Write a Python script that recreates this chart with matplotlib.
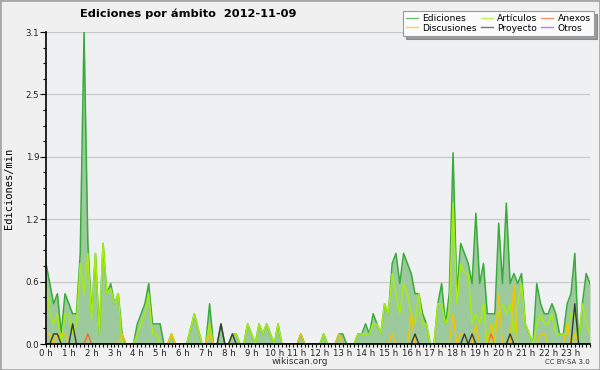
import numpy as np
import matplotlib
matplotlib.use('Agg')
import matplotlib.pyplot as plt
from matplotlib.ticker import FixedLocator, MultipleLocator
from matplotlib.patches import Rectangle

# una muestra cada 10 minutos (fila = una hora)
minutos = np.arange(0, 1440, 10)

ediciones = [
    0.8, 0.6, 0.4, 0.5, 0.1, 0.5,
    0.4, 0.3, 0.3, 0.9, 3.1, 1.0,
    0.3, 0.9, 0.1, 1.0, 0.5, 0.6,
    0.4, 0.5, 0.1, 0.0, 0.0, 0.0,
    0.2, 0.3, 0.4, 0.6, 0.2, 0.2,
    0.2, 0.0, 0.0, 0.1, 0.0, 0.0,
    0.0, 0.0, 0.15, 0.3, 0.15, 0.0,
    0.0, 0.4, 0.0, 0.0, 0.2, 0.0,
    0.0, 0.1, 0.1, 0.0, 0.0, 0.2,
    0.1, 0.0, 0.2, 0.1, 0.2, 0.1,
    0.0, 0.2, 0.0, 0.0, 0.0, 0.0,
    0.0, 0.1, 0.0, 0.0, 0.0, 0.0,
    0.0, 0.1, 0.0, 0.0, 0.0, 0.1,
    0.1, 0.0, 0.0, 0.0, 0.1, 0.1,
    0.2, 0.1, 0.3, 0.2, 0.1, 0.4,
    0.3, 0.8, 0.9, 0.6, 0.9, 0.8,
    0.7, 0.5, 0.5, 0.3, 0.2, 0.0,
    0.0, 0.4, 0.6, 0.2, 0.5, 1.9,
    0.5, 1.0, 0.9, 0.8, 0.6, 1.3,
    0.6, 0.8, 0.3, 0.3, 0.3, 1.2,
    0.6, 1.4, 0.6, 0.7, 0.6, 0.7,
    0.2, 0.1, 0.0, 0.6, 0.4, 0.3,
    0.3, 0.4, 0.3, 0.1, 0.1, 0.4,
    0.5, 0.9, 0.0, 0.4, 0.7, 0.6,
]

articulos = [
    0.6, 0.3, 0.2, 0.3, 0.0, 0.3,
    0.3, 0.1, 0.2, 0.8, 0.5, 0.9,
    0.25, 0.9, 0.1, 1.0, 0.5, 0.55,
    0.4, 0.5, 0.0, 0.0, 0.0, 0.0,
    0.1, 0.2, 0.3, 0.5, 0.1, 0.1,
    0.0, 0.0, 0.0, 0.1, 0.0, 0.0,
    0.0, 0.0, 0.15, 0.3, 0.15, 0.0,
    0.0, 0.2, 0.0, 0.0, 0.0, 0.0,
    0.0, 0.1, 0.1, 0.0, 0.0, 0.2,
    0.1, 0.0, 0.2, 0.1, 0.2, 0.1,
    0.0, 0.2, 0.0, 0.0, 0.0, 0.0,
    0.0, 0.0, 0.0, 0.0, 0.0, 0.0,
    0.0, 0.1, 0.0, 0.0, 0.0, 0.0,
    0.0, 0.0, 0.0, 0.0, 0.1, 0.1,
    0.1, 0.1, 0.2, 0.2, 0.1, 0.4,
    0.3, 0.7, 0.5, 0.3, 0.6, 0.5,
    0.3, 0.2, 0.5, 0.2, 0.2, 0.0,
    0.0, 0.4, 0.4, 0.2, 0.3, 1.4,
    0.4, 0.8, 0.7, 0.7, 0.2, 0.3,
    0.2, 0.4, 0.0, 0.0, 0.2, 0.3,
    0.4, 0.3, 0.4, 0.1, 0.4, 0.6,
    0.2, 0.1, 0.0, 0.2, 0.3, 0.2,
    0.2, 0.3, 0.1, 0.1, 0.1, 0.1,
    0.3, 0.3, 0.0, 0.4, 0.2, 0.1,
]

discusiones = [
    0.1, 0.1, 0.0, 0.1, 0.1, 0.1,
    0.0, 0.0, 0.0, 0.0, 0.0, 0.0,
    0.0, 0.0, 0.0, 0.0, 0.0, 0.0,
    0.0, 0.0, 0.1, 0.0, 0.0, 0.0,
    0.0, 0.0, 0.0, 0.0, 0.0, 0.0,
    0.0, 0.0, 0.0, 0.1, 0.0, 0.0,
    0.0, 0.0, 0.0, 0.0, 0.0, 0.0,
    0.0, 0.1, 0.0, 0.0, 0.0, 0.0,
    0.0, 0.0, 0.0, 0.0, 0.0, 0.0,
    0.0, 0.0, 0.0, 0.0, 0.0, 0.0,
    0.0, 0.0, 0.0, 0.0, 0.0, 0.0,
    0.0, 0.1, 0.0, 0.0, 0.0, 0.0,
    0.0, 0.0, 0.0, 0.0, 0.0, 0.1,
    0.0, 0.0, 0.0, 0.0, 0.0, 0.0,
    0.0, 0.0, 0.0, 0.0, 0.0, 0.0,
    0.0, 0.1, 0.0, 0.0, 0.0, 0.0,
    0.3, 0.0, 0.0, 0.0, 0.0, 0.0,
    0.0, 0.0, 0.0, 0.0, 0.0, 0.3,
    0.0, 0.1, 0.1, 0.0, 0.0, 0.2,
    0.0, 0.0, 0.0, 0.2, 0.0, 0.5,
    0.0, 0.0, 0.0, 0.6, 0.0, 0.0,
    0.0, 0.0, 0.0, 0.0, 0.1, 0.1,
    0.0, 0.0, 0.0, 0.0, 0.0, 0.2,
    0.0, 0.1, 0.0, 0.0, 0.0, 0.0,
]

proyecto = [
    0.0, 0.0, 0.1, 0.1, 0.0, 0.0,
    0.0, 0.2, 0.0, 0.0, 0.0, 0.0,
    0.0, 0.0, 0.0, 0.0, 0.0, 0.0,
    0.0, 0.0, 0.0, 0.0, 0.0, 0.0,
    0.0, 0.0, 0.0, 0.0, 0.0, 0.0,
    0.0, 0.0, 0.0, 0.0, 0.0, 0.0,
    0.0, 0.0, 0.0, 0.0, 0.0, 0.0,
    0.0, 0.0, 0.0, 0.0, 0.2, 0.0,
    0.0, 0.1, 0.0, 0.0, 0.0, 0.0,
    0.0, 0.0, 0.0, 0.0, 0.0, 0.0,
    0.0, 0.0, 0.0, 0.0, 0.0, 0.0,
    0.0, 0.0, 0.0, 0.0, 0.0, 0.0,
    0.0, 0.0, 0.0, 0.0, 0.0, 0.0,
    0.0, 0.0, 0.0, 0.0, 0.0, 0.0,
    0.0, 0.0, 0.0, 0.0, 0.0, 0.0,
    0.0, 0.0, 0.0, 0.0, 0.0, 0.0,
    0.0, 0.1, 0.0, 0.0, 0.0, 0.0,
    0.0, 0.0, 0.0, 0.0, 0.0, 0.0,
    0.0, 0.0, 0.1, 0.0, 0.1, 0.0,
    0.0, 0.0, 0.0, 0.0, 0.0, 0.0,
    0.0, 0.0, 0.1, 0.0, 0.0, 0.0,
    0.0, 0.0, 0.0, 0.0, 0.0, 0.0,
    0.0, 0.0, 0.0, 0.0, 0.0, 0.0,
    0.0, 0.4, 0.0, 0.0, 0.0, 0.0,
]

anexos = [0.0] * 144
anexos[11] = 0.1
anexos[117] = 0.1

otros = [0.0] * 144

horas = list(range(24))
y_ticks = [0.0, 0.62, 1.24, 1.86, 2.48, 3.1]

plt.rcParams['font.family'] = ['DejaVu Sans']

fig = plt.figure(figsize=(6, 3.7), dpi=100, facecolor='#f0f0f0')
ax = fig.add_axes([46/600, 1-344/370, 544/600, 312/370])
ax.set_facecolor('#eef0f2')

ax.fill_between(minutos, ediciones, 0, color='#9cca9c', lw=0, zorder=1)
l_edi, = ax.plot(minutos, ediciones, color='#38ab38', lw=1.1, label='Ediciones', zorder=2)
l_art, = ax.plot(minutos, articulos, color='#a6ec10', lw=1.1, label='Artículos', zorder=2.1)
l_anx, = ax.plot(minutos, anexos, color='#f26a2a', lw=1.0, label='Anexos', zorder=2.2)
l_dis, = ax.plot(minutos, discusiones, color='#f5c400', lw=1.0, label='Discusiones', zorder=2.3)
l_pro, = ax.plot(minutos, proyecto, color='#3a3a3a', lw=1.0, label='Proyecto', zorder=2.4)
l_otr, = ax.plot(minutos, otros, color='#9a4cf0', lw=1.0, label='Otros', zorder=2.05)

ax.set_xlim(0, 1430)
ax.set_ylim(0, 3.1)

ax.xaxis.set_major_locator(FixedLocator([h * 60 for h in horas]))
ax.set_xticklabels([f'{h} h' for h in horas])
ax.xaxis.set_minor_locator(MultipleLocator(10))
ax.yaxis.set_major_locator(FixedLocator(y_ticks))
ax.set_yticklabels([f'{v:.1f}' for v in y_ticks])
ax.yaxis.set_minor_locator(MultipleLocator(0.155))

ax.tick_params(axis='x', which='both', length=2.5, width=0.8, pad=1,
               labelsize=6.2, labelcolor='#222222')
ax.tick_params(axis='y', which='major', length=4, width=0.8, pad=1,
               labelsize=6.2, labelcolor='#222222')
ax.tick_params(axis='y', which='minor', length=2, width=0.8)

ax.grid(axis='y', which='major', color='#c8c8c8', lw=0.9)
ax.set_axisbelow(True)
for s in ['top', 'right']:
    ax.spines[s].set_visible(False)
for s in ['left', 'bottom']:
    ax.spines[s].set_color('black')
    ax.spines[s].set_linewidth(1.2)
    ax.spines[s].set_zorder(5)

ax.set_ylabel('Ediciones/min', family='DejaVu Sans Mono', fontsize=7.5)
ax.yaxis.set_label_coords(-0.058, 0.5)

fig.text(188/600, 1-14/370, 'Ediciones por ámbito  2012-11-09',
         ha='center', va='center', fontsize=8.2, fontweight='bold')
fig.text(300/600, 1-362/370, 'wikiscan.org', ha='center', va='center',
         fontsize=6.5, color='#333333')
fig.text(590/600, 1-362/370, 'CC BY-SA 3.0', ha='right', va='center',
         fontsize=5, color='#333333')

leg = fig.legend(handles=[l_edi, l_dis, l_art, l_pro, l_anx, l_otr], ncol=3,
                 loc='upper right', bbox_to_anchor=(594/600, 1-11/370),
                 fontsize=6.6, frameon=True, fancybox=False, shadow=True,
                 handlelength=1.3, handletextpad=0.5, columnspacing=0.4,
                 labelspacing=0.05, borderpad=0.35, borderaxespad=0)
leg.get_frame().set_facecolor('#fbfbfb')
leg.get_frame().set_edgecolor('#9a9a9a')
leg.get_frame().set_linewidth(0.8)
for h in leg.legend_handles:
    h.set_linewidth(1.0)
    h.set_alpha(0.7)

fig.add_artist(Rectangle((0, 0), 1, 1, transform=fig.transFigure, fill=False,
                         edgecolor='#a8a8a8', lw=2))

fig.savefig('out.png', dpi=100, facecolor=fig.get_facecolor())
